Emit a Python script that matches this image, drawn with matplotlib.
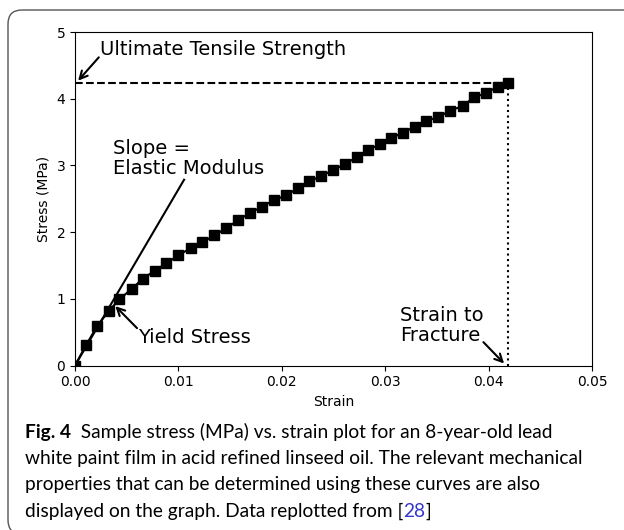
import numpy as np
import matplotlib
matplotlib.use("Agg")
import matplotlib.pyplot as plt
from matplotlib.patches import FancyBboxPatch
from matplotlib.transforms import IdentityTransform

# stress-strain data
strain = [0.0000, 0.00105, 0.00214, 0.00327, 0.00430, 0.00547, 0.00657, 0.00769,
          0.00883, 0.00997, 0.01119, 0.01233, 0.01348, 0.01463, 0.01580, 0.01694,
          0.01811, 0.01922, 0.02044, 0.02155, 0.02267, 0.02379, 0.02497, 0.02610,
          0.02723, 0.02835, 0.02950, 0.03058, 0.03172, 0.03284, 0.03393, 0.03512,
          0.03624, 0.03750, 0.03858, 0.03971, 0.04087, 0.04191]
stress = [0.00, 0.30, 0.59, 0.82, 0.99, 1.15, 1.30, 1.42,
          1.53, 1.65, 1.76, 1.85, 1.95, 2.06, 2.18, 2.29,
          2.38, 2.48, 2.55, 2.66, 2.76, 2.84, 2.93, 3.02,
          3.12, 3.23, 3.32, 3.41, 3.49, 3.58, 3.67, 3.72,
          3.82, 3.89, 4.02, 4.08, 4.18, 4.23]

# elastic modulus guide line (MPa) and where it stops
MODULUS = 264.0
MODULUS_END = 0.01055

x_ticks = [0.00, 0.01, 0.02, 0.03, 0.04, 0.05]
y_ticks = [0, 1, 2, 3, 4, 5]

caption_first = "  Sample stress (MPa) vs. strain plot for an 8-year-old lead"
caption_lines = [
    "white paint film in acid refined linseed oil. The relevant mechanical",
    "properties that can be determined using these curves are also",
]
caption_last = "displayed on the graph. Data replotted from ["

W, H = 624, 530
fig = plt.figure(figsize=(W / 100, H / 100), dpi=100)
ax = fig.add_axes([75 / W, 1 - 365.5 / H, (592 - 75) / W, (365.5 - 32) / H])

uts = max(stress)
fracture = strain[-1]

ax.plot(strain, stress, "-s", color="black", lw=1.5, ms=7.5)
ax.plot([0, MODULUS_END], [0, MODULUS * MODULUS_END], color="black", lw=1.5)
ax.plot([0, fracture], [uts, uts], "--", color="black", lw=1.5)
ax.plot([fracture, fracture], [0, uts], ":", color="black", lw=1.5)

ax.set_xlim(0, 0.05)
ax.set_ylim(0, 5)
ax.set_xticks(x_ticks)
ax.set_xticklabels([f"{v:.2f}" for v in x_ticks])
ax.set_yticks(y_ticks)
ax.tick_params(labelsize=10)
ax.set_xlabel("Strain", fontsize=10)
ax.set_ylabel("Stress (MPa)", fontsize=10)

arrow = dict(arrowstyle="->", color="black", lw=1.5, shrinkA=0, shrinkB=0,
             mutation_scale=14)

ax.text(0.00242, 4.66, "Ultimate Tensile Strength", fontsize=14, va="baseline")
ax.annotate("", xy=(0.0003, 4.27), xytext=(0.0023, 4.62), arrowprops=arrow)

ax.text(0.00365, 2.81, "Slope =\nElastic Modulus", fontsize=14, va="bottom",
        linespacing=1.05)

ax.text(0.00613, 0.33, "Yield Stress", fontsize=14, va="baseline")
ax.annotate("", xy=(0.0039, 0.89), xytext=(0.0060, 0.56), arrowprops=arrow)

ax.text(0.0314, 0.31, "Strain to\nFracture", fontsize=14, va="bottom",
        linespacing=1.05)
ax.annotate("", xy=(0.0415, 0.03), xytext=(0.0395, 0.35), arrowprops=arrow)

# caption
cap = dict(family="Lato", fontsize=13.8)
x0 = 25 / W
t = fig.text(x0, 1 - 438 / H, "Fig. 4", fontweight="bold", va="baseline", **cap)
ax.annotate(caption_first, xy=(1, 0), xycoords=t, va="bottom",
            annotation_clip=False, **cap)
for line, yp in zip(caption_lines, [464, 490]):
    fig.text(x0, 1 - yp / H, line, va="baseline", **cap)
t4 = fig.text(x0, 1 - 516.5 / H, caption_last, va="baseline", **cap)
t5 = ax.annotate("28", xy=(1, 0), xycoords=t4, va="bottom", color="#3535d0",
                 annotation_clip=False, **cap)
ax.annotate("]", xy=(1, 0), xycoords=t5, va="bottom", annotation_clip=False, **cap)

# rounded frame that runs off the right and bottom edges
frame = FancyBboxPatch((8, -4), 700, 530 - 10 + 4,
                       boxstyle="round,pad=0,rounding_size=14",
                       transform=IdentityTransform(), fill=False,
                       edgecolor="#555555", lw=1.0)
fig.add_artist(frame)

fig.savefig("out.png", dpi=100)
